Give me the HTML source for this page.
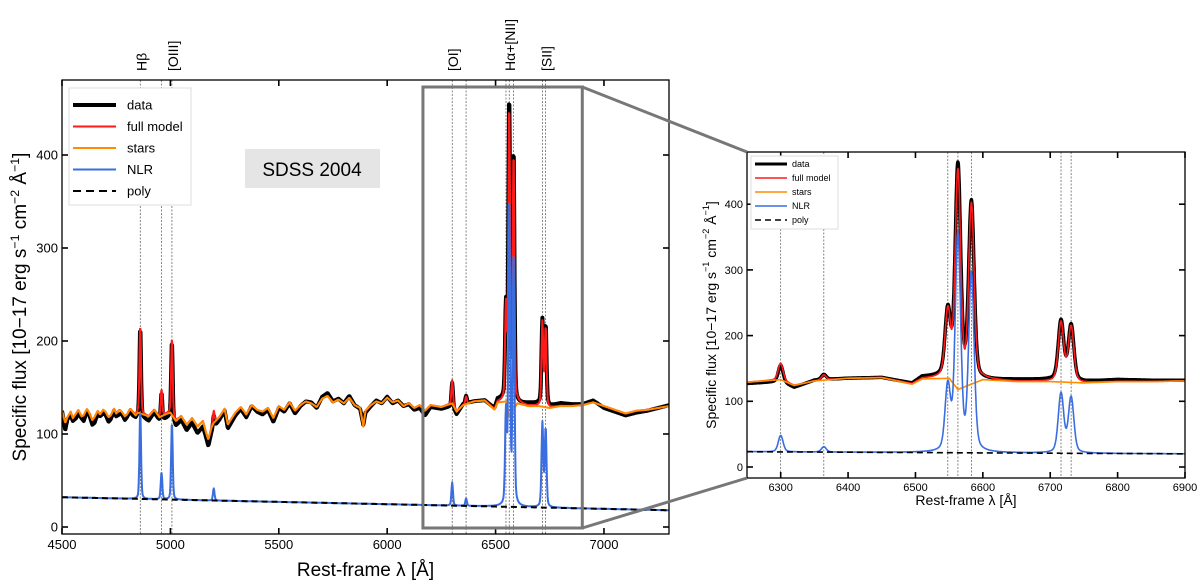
<!DOCTYPE html>
<html><head><meta charset="utf-8">
<style>
body{margin:0;background:#fff;}
svg{display:block;font-family:"Liberation Sans",sans-serif;}
</style></head>
<body>
<svg id="fig" width="1200" height="584" viewBox="0 0 1200 584" xmlns="http://www.w3.org/2000/svg">
</svg>
<script>
// ---- data ----
const contWave = [4500,4515,4525,4540,4550,4565,4575,4590,4600,4615,4625,4640,4650,4665,4675,4690,4700,4715,4725,4740,4750,4765,4775,4790,4800,4815,4825,4840,4850,4875,4900,4925,4950,4975,5000,5025,5050,5075,5100,5125,5150,5165,5175,5190,5200,5225,5250,5265,5275,5300,5325,5350,5375,5400,5425,5450,5475,5500,5525,5550,5575,5600,5625,5650,5675,5700,5725,5750,5775,5800,5825,5850,5875,5890,5900,5925,5950,5975,6000,6025,6050,6075,6100,6125,6150,6175,6200,6250,6300,6320,6350,6400,6450,6495,6510,6550,6563,6600,6650,6700,6750,6800,6850,6900,6950,7000,7050,7100,7150,7200,7250,7300];
const starsFlux = [125,112,118,124,117,122,126,119,120,127,123,115,118,125,121,126,124,118,120,127,122,126,124,119,121,127,124,120,123,121,119,126,118,121,123,114,119,110,117,108,114,101,94,107,112,118,127,110,114,123,129,121,131,126,124,128,117,130,126,134,125,131,135,133,129,138,141,134,137,133,139,131,128,108,125,131,135,133,139,134,136,130,133,128,131,125,131,129,133,124,131,135,136,126,134,135,118,133,130,130,128,130,130,131,134,130,126,122,125,126,128,130];
const dataOffset = [0,-8,-2,-4,-3,-5,-4,-2,-6,-3,-2,-5,-6,-3,-2,-4,-3,-5,-4,-2,-3,-5,-2,-4,-3,-2,-4,-3,-3,-4,-5,-3,-4,-5,-4,-6,-4,-6,-5,-7,-6,-5,-7,-5,-5,-3,-2,-4,-4,-3,-2,-3,-1,-2,-3,-2,-4,-2,-2,-1,-3,-1,0,1,-1,2,3,1,1,0,2,0,-1,2,-2,-1,1,0,1,-1,0,0,-1,-2,-3,-5,-2,-2,-3,-3,1,0,0,1,3,2,10,-1,3,3,2,3,2,1,2,-2,-2,-2,-2,-1,0,1];
const lineWave = [4861,4959,5007,5200,6300,6364,6548,6563,6583,6716,6731];
const lineAmp  = [95,29,83,13,25,8,98,328,270,90,84];
const lineSigma= [3.5,3.5,3.5,3.5,3.5,3.5,4,4,4,4,4];
const polyEnds = [32,18];          // poly continuum at 4500 and 7300 Å
const markerWave = [4861,4959,5007,6300,6364,6548,6563,6583,6716,6731];
const labelText = ["Hβ","[OIII]","[OI]","Hα+[NII]","[SII]"];
const labelWave = [4861,5007,6300,6563,6731];
const mainXTicks = [4500,5000,5500,6000,6500,7000];
const mainYTicks = [0,100,200,300,400];
const insetXTicks = [6300,6400,6500,6600,6700,6800,6900];
const insetYTicks = [0,100,200,300,400];

const NS="http://www.w3.org/2000/svg";
const svg=document.getElementById('fig');
function el(tag,attrs,parent){const e=document.createElementNS(NS,tag);for(const k in attrs)e.setAttribute(k,attrs[k]);(parent||svg).appendChild(e);return e;}

function interp(xs,ys,x){if(x<=xs[0])return ys[0];for(let i=1;i<xs.length;i++){if(x<=xs[i]){const t=(x-xs[i-1])/(xs[i]-xs[i-1]);return ys[i-1]+t*(ys[i]-ys[i-1]);}}return ys[ys.length-1];}
function poly(w){return polyEnds[0]+(polyEnds[1]-polyEnds[0])*(w-4500)/2800;}
function lines(w){let s=0;for(let i=0;i<lineWave.length;i++){const d=(w-lineWave[i])/lineSigma[i];s+=lineAmp[i]*(0.7*Math.exp(-0.5*d*d)+0.3/(1+0.6*d*d));}return s;}
function stars(w){return interp(contWave,starsFlux,w);}
function nlr(w){return poly(w)+lines(w);}
function model(w){return stars(w)+lines(w);}
function data(w){return model(w)+interp(contWave,dataOffset,w);}

function makePanel(cfg){
  const g=el('g',{});
  
  
  const X=w=>cfg.x0+(w-cfg.w0)*(cfg.x1-cfg.x0)/(cfg.w1-cfg.w0);
  const Y=f=>cfg.yz-f*cfg.ys;
  const clipId=cfg.name+'-clip';
  const cp=el('clipPath',{id:clipId},g);
  el('rect',{x:cfg.x0,y:cfg.top,width:cfg.x1-cfg.x0,height:cfg.bot-cfg.top},cp);
  const plot=el('g',{'clip-path':`url(#${clipId})`},g);
  markerWave.forEach(w=>{
    if(w<cfg.w0||w>cfg.w1)return;
    const l=el('line',{x1:X(w),x2:X(w),y1:cfg.top,y2:cfg.bot,stroke:'#555','stroke-width':0.7,'stroke-dasharray':'2,1.5'},plot);
    
    
  });
  function path(fn,color,width,name,dash){
    let d='';
    for(let w=cfg.w0;w<=cfg.w1;w+=cfg.step){d+=(d?'L':'M')+X(w).toFixed(1)+','+Y(fn(w)).toFixed(1);}
    const p=el('path',{d:d,fill:'none',stroke:color,'stroke-width':width,'stroke-linejoin':'round'},plot);
    if(dash)p.setAttribute('stroke-dasharray',dash);
    
    
  }
  path(data,'#000',cfg.dw,'data-series');
  path(model,'#ff1a1a',cfg.lw,'full-model-series');
  path(stars,'#ff8c00',cfg.lw,'stars-series');
  path(nlr,'#3a6ee0',cfg.lw,'nlr-series');
  path(poly,'#000',cfg.lw,'poly-series',cfg.dash);
  const fr=el('rect',{x:cfg.x0,y:cfg.top,width:cfg.x1-cfg.x0,height:cfg.bot-cfg.top,fill:'none',stroke:'#000','stroke-width':1.3},g);
  
  
  cfg.xt.forEach(w=>{
    const x=X(w);
    el('line',{x1:x,x2:x,y1:cfg.bot,y2:cfg.bot-cfg.tl,stroke:'#000','stroke-width':1.6},g);
    el('line',{x1:x,x2:x,y1:cfg.top,y2:cfg.top+cfg.tl,stroke:'#000','stroke-width':1.6},g);
    const t=el('text',{x:x,y:cfg.bot+cfg.fs+2,'font-size':cfg.fs,'text-anchor':'middle'},g);t.textContent=w;
    
    
  });
  cfg.yt.forEach(f=>{
    const y=Y(f);
    el('line',{x1:cfg.x0,x2:cfg.x0+cfg.tl,y1:y,y2:y,stroke:'#000','stroke-width':1.6},g);
    el('line',{x1:cfg.x1,x2:cfg.x1-cfg.tl,y1:y,y2:y,stroke:'#000','stroke-width':1.6},g);
    const t=el('text',{x:cfg.x0-4,y:y+cfg.fs*0.35,'font-size':cfg.fs,'text-anchor':'end'},g);t.textContent=f;
    
    
  });
  const xt=el('text',{x:(cfg.x0+cfg.x1)/2,y:cfg.xtY,'font-size':cfg.tfs,'text-anchor':'middle'},g);
  xt.textContent='Rest-frame λ [Å]';
  
  
  const yt=el('text',{x:0,y:0,'font-size':cfg.tfs,'text-anchor':'middle',transform:`translate(${cfg.ytX},${(cfg.top+cfg.bot)/2}) rotate(-90)`},g);
  yt.innerHTML='Specific flux [10−17 erg s<tspan dy="-7" font-size="'+(cfg.tfs*0.65)+'">−1</tspan><tspan dy="7"> cm</tspan><tspan dy="-7" font-size="'+(cfg.tfs*0.65)+'">−2</tspan><tspan dy="7"> Å</tspan><tspan dy="-7" font-size="'+(cfg.tfs*0.65)+'">−1</tspan><tspan dy="7">]</tspan>';
  
  
  const L=cfg.leg;
  const lg=el('g',{},g);
  
  
  el('rect',{x:L.x,y:L.y,width:L.w,height:L.h,fill:'#fff',stroke:'#ddd','stroke-width':1},lg);
  const items=[['data','#000',L.dw,null],['full model','#ff1a1a',L.lw,null],['stars','#ff8c00',L.lw,null],['NLR','#3a6ee0',L.lw,null],['poly','#000',L.lw,L.dash]];
  items.forEach((it,i)=>{
    const y=L.y+L.first+i*L.dy;
    const ln=el('line',{x1:L.x+4,x2:L.x+4+L.len,y1:y,y2:y,stroke:it[1],'stroke-width':it[2]},lg);
    if(it[3])ln.setAttribute('stroke-dasharray',it[3]);
    
    
    const t=el('text',{x:L.x+L.tx,y:y+L.fs*0.35,'font-size':L.fs},lg);t.textContent=it[0];
    
    
  });
  return {X,Y};
}

const main=makePanel({name:'main-panel',x0:62,x1:669,w0:4500,w1:7300,top:80,bot:534,yz:527,ys:0.93,step:2,dw:4,lw:2,dash:'6,4',tl:6,fs:13,tfs:19,xtY:576,ytX:26,
  leg:{x:69,y:88,w:122,h:117,first:17,dy:21.5,len:43,tx:58,fs:13,dw:4,lw:2,dash:'8,5'},xt:mainXTicks,yt:mainYTicks});
const ins=makePanel({name:'inset-panel',x0:747,x1:1185,w0:6250,w1:6900,top:152,bot:478,yz:467,ys:0.657,step:0.5,dw:3.5,lw:1.6,dash:'6,4',tl:6,fs:11,tfs:14,xtY:505,ytX:716,
  leg:{x:751,y:156,w:87,h:73,first:8,dy:14,len:32,tx:41,fs:9,dw:3,lw:1.6,dash:'6,4'},xt:insetXTicks,yt:insetYTicks});

const sb=el('rect',{x:245,y:149,width:135,height:39,fill:'#e5e5e5'});


const st=el('text',{x:312,y:176,'font-size':19,'text-anchor':'middle'});st.textContent='SDSS 2004';



labelText.forEach((s,i)=>{
  const x=main.X(labelWave[i])+6;
  const t=el('text',{x:0,y:0,'font-size':14,'text-anchor':'start',transform:`translate(${x},${71}) rotate(-90)`});
  t.textContent=s;
  
  
});

const zx0=main.X(6165), zx1=main.X(6900), zy0=87, zy1=528;
const zb=el('rect',{x:zx0,y:zy0,width:zx1-zx0,height:zy1-zy0,fill:'none',stroke:'#777','stroke-width':3});


const c1=el('line',{x1:zx1,y1:zy0,x2:747,y2:152,stroke:'#777','stroke-width':3});


const c2=el('line',{x1:zx1,y1:zy1,x2:747,y2:478,stroke:'#777','stroke-width':3});


</script>
</body></html>
